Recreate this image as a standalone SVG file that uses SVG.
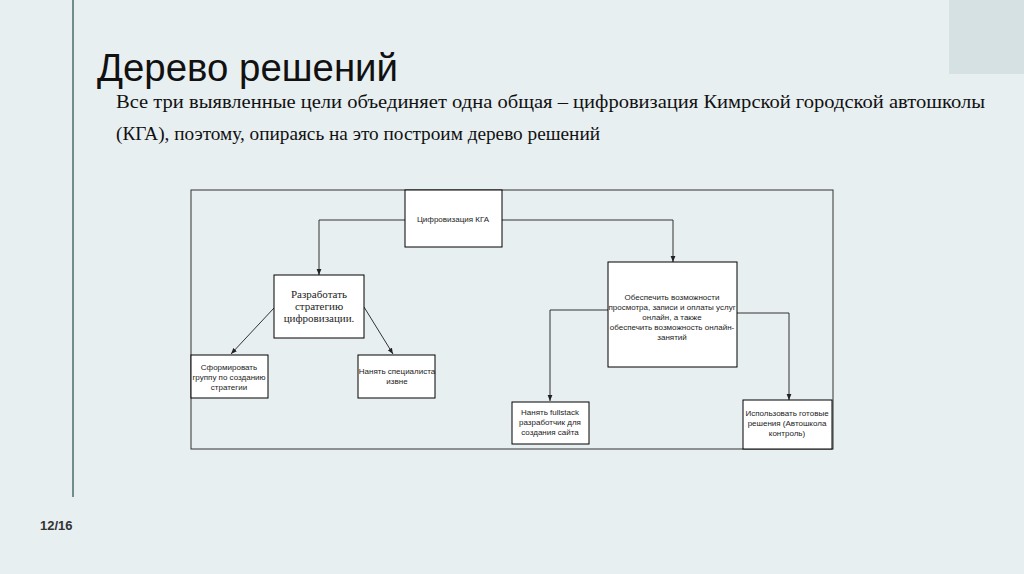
<svg xmlns="http://www.w3.org/2000/svg" width="1024" height="574" viewBox="0 0 1024 574">
<defs>
<style>
.b{fill:#fff;stroke:#000;stroke-width:1}
.t{font-family:"Liberation Sans",Arial,sans-serif;font-size:8px;fill:#222;text-anchor:middle}
.c{fill:none;stroke:#333;stroke-width:1}
</style>
<marker id="a" viewBox="0 0 10 10" refX="10" refY="5" markerWidth="6" markerHeight="6" orient="auto"><path d="M0,1 L10,5 L0,9 z" fill="#222"/></marker>
</defs>
<rect width="1024" height="574" fill="#e8eff1"/>
<rect x="949" y="0" width="75" height="74" fill="#d5e1e2"/>
<line x1="73" y1="0" x2="73" y2="497" stroke="#4d6b6b" stroke-width="1.5"/>
<text x="97" y="81" font-family="Liberation Sans,Arial,sans-serif" font-size="39" fill="#111" textLength="301" lengthAdjust="spacingAndGlyphs">Дерево решений</text>
<text x="116" y="108" font-family="Liberation Serif,serif" font-size="19" fill="#111" textLength="869" lengthAdjust="spacingAndGlyphs">Все три выявленные цели объединяет одна общая – цифровизация Кимрской городской автошколы</text>
<text x="116" y="140" font-family="Liberation Serif,serif" font-size="19" fill="#111" textLength="484" lengthAdjust="spacingAndGlyphs">(КГА), поэтому, опираясь на это построим дерево решений</text>
<text x="40" y="530" font-family="Liberation Sans,Arial,sans-serif" font-size="13" font-weight="bold" fill="#333">12/16</text>
<rect x="191" y="190" width="642" height="259" fill="none" stroke="#333" stroke-width="1"/>
<g id="connectors">
<path class="c" d="M405,220 H319 V275" marker-end="url(#a)"/>
<path class="c" d="M502,220 H673 V262" marker-end="url(#a)"/>
<path class="c" d="M274,308 L231,354" marker-end="url(#a)"/>
<path class="c" d="M364,307 L393,354" marker-end="url(#a)"/>
<path class="c" d="M608,310 H550 V401" marker-end="url(#a)"/>
<path class="c" d="M737,313 H789 V400" marker-end="url(#a)"/>
</g>
<g id="n1"><rect class="b" x="405" y="190" width="97" height="57"/><text class="t" x="453" y="222">Цифровизация КГА</text></g>
<g id="n2"><rect class="b" x="274" y="275" width="90" height="63"/><text class="t" style="font-family:'Liberation Serif',serif;font-size:11px" x="319" y="298"><tspan x="319">Разработать</tspan><tspan x="319" dy="12">стратегию</tspan><tspan x="319" dy="12">цифровизации.</tspan></text></g>
<g id="n3"><rect class="b" x="191" y="355" width="77" height="43"/><text class="t" x="229" y="370"><tspan x="229">Сформировать</tspan><tspan x="229" dy="10">группу по созданию</tspan><tspan x="229" dy="10">стратегии</tspan></text></g>
<g id="n4"><rect class="b" x="358" y="355" width="77" height="43"/><text class="t" x="397" y="374"><tspan x="397">Нанять специалиста</tspan><tspan x="397" dy="10">извне</tspan></text></g>
<g id="n5"><rect class="b" x="608" y="262" width="129" height="105"/><text class="t" x="672" y="300"><tspan x="672">Обеспечить возможности</tspan><tspan x="672" dy="10">просмотра, записи и оплаты услуг</tspan><tspan x="672" dy="10">онлайн, а также</tspan><tspan x="672" dy="10">обеспечить возможность онлайн-</tspan><tspan x="672" dy="10">занятий</tspan></text></g>
<g id="n6"><rect class="b" x="512" y="402" width="77" height="42"/><text class="t" x="550" y="415"><tspan x="550">Нанять  fullstack</tspan><tspan x="550" dy="10">разработчик для</tspan><tspan x="550" dy="10">создания сайта</tspan></text></g>
<g id="n7"><rect class="b" x="743" y="400" width="89" height="49"/><text class="t" x="787" y="416"><tspan x="787">Использовать готовые</tspan><tspan x="787" dy="10">решения (Автошкола</tspan><tspan x="787" dy="10">контроль)</tspan></text></g>
</svg>
